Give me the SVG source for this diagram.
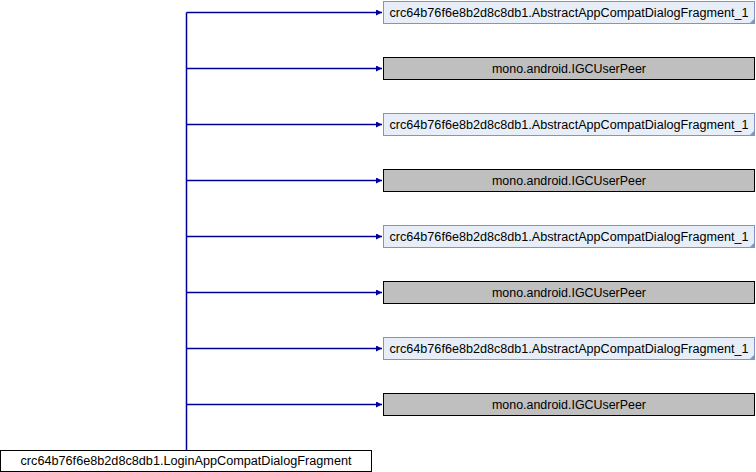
<svg xmlns="http://www.w3.org/2000/svg" width="756" height="472" viewBox="0 0 756 472">
<style>
.t{font-family:"Liberation Sans",Arial,sans-serif;font-size:12.5px;fill:#000;text-anchor:middle}
.b{fill:#E8EEF7;stroke:#7F95C8;stroke-width:1}
.g{fill:#BFBFBF;stroke:#000;stroke-width:1}
.w{fill:#FFF;stroke:#000;stroke-width:1}
.c{fill:#7F95C8}
.e{fill:none;stroke:#000099;stroke-width:1.5}
</style>
<defs>
<marker id="a" markerWidth="8" markerHeight="8" refX="6" refY="3" orient="auto" markerUnits="userSpaceOnUse">
<path d="M0,0 L6,3 L0,6 Z" fill="#000099"/>
</marker>
</defs>
<rect width="756" height="472" fill="#fff"/>
<g id="edges">
<path class="e" d="M186.5,450 V12.5"/>
<path class="e" d="M186.5,12.5 H382" marker-end="url(#a)"/>
<path class="e" d="M186.5,68.5 H382" marker-end="url(#a)"/>
<path class="e" d="M186.5,124.5 H382" marker-end="url(#a)"/>
<path class="e" d="M186.5,180.5 H382" marker-end="url(#a)"/>
<path class="e" d="M186.5,236.5 H382" marker-end="url(#a)"/>
<path class="e" d="M186.5,292.5 H382" marker-end="url(#a)"/>
<path class="e" d="M186.5,348.5 H382" marker-end="url(#a)"/>
<path class="e" d="M186.5,404.5 H382" marker-end="url(#a)"/>
</g>
<g id="n1"><rect class="b" x="383.5" y="1.5" width="371" height="22"/><path class="c" d="M754.5,18.5 V23.5 H749.5 Z"/><text class="t" x="569" y="17" textLength="359" lengthAdjust="spacingAndGlyphs">crc64b76f6e8b2d8c8db1.AbstractAppCompatDialogFragment_1</text></g>
<g id="n2"><rect class="g" x="383.5" y="57.5" width="371" height="22"/><text class="t" x="569" y="73" textLength="154" lengthAdjust="spacingAndGlyphs">mono.android.IGCUserPeer</text></g>
<g id="n3"><rect class="b" x="383.5" y="113.5" width="371" height="22"/><path class="c" d="M754.5,130.5 V135.5 H749.5 Z"/><text class="t" x="569" y="129" textLength="359" lengthAdjust="spacingAndGlyphs">crc64b76f6e8b2d8c8db1.AbstractAppCompatDialogFragment_1</text></g>
<g id="n4"><rect class="g" x="383.5" y="169.5" width="371" height="22"/><text class="t" x="569" y="185" textLength="154" lengthAdjust="spacingAndGlyphs">mono.android.IGCUserPeer</text></g>
<g id="n5"><rect class="b" x="383.5" y="225.5" width="371" height="22"/><path class="c" d="M754.5,242.5 V247.5 H749.5 Z"/><text class="t" x="569" y="241" textLength="359" lengthAdjust="spacingAndGlyphs">crc64b76f6e8b2d8c8db1.AbstractAppCompatDialogFragment_1</text></g>
<g id="n6"><rect class="g" x="383.5" y="281.5" width="371" height="22"/><text class="t" x="569" y="297" textLength="154" lengthAdjust="spacingAndGlyphs">mono.android.IGCUserPeer</text></g>
<g id="n7"><rect class="b" x="383.5" y="337.5" width="371" height="22"/><path class="c" d="M754.5,354.5 V359.5 H749.5 Z"/><text class="t" x="569" y="353" textLength="359" lengthAdjust="spacingAndGlyphs">crc64b76f6e8b2d8c8db1.AbstractAppCompatDialogFragment_1</text></g>
<g id="n8"><rect class="g" x="383.5" y="393.5" width="371" height="22"/><text class="t" x="569" y="409" textLength="154" lengthAdjust="spacingAndGlyphs">mono.android.IGCUserPeer</text></g>
<g id="n0"><rect class="w" x="0.5" y="450.5" width="371" height="21"/><text class="t" x="186" y="465" textLength="331" lengthAdjust="spacingAndGlyphs">crc64b76f6e8b2d8c8db1.LoginAppCompatDialogFragment</text></g>
</svg>
